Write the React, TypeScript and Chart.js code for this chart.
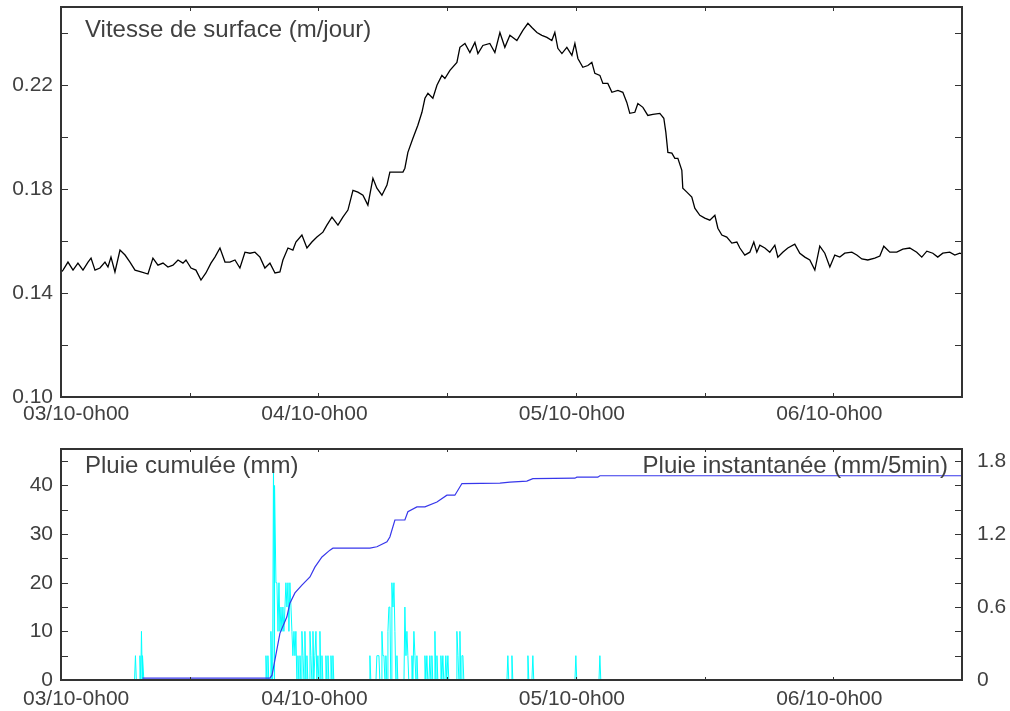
import React, { useEffect, useRef } from 'react';
import { Chart, registerables } from 'chart.js';

Chart.register(...registerables);

const FONT = '"Liberation Sans", Arial, sans-serif';
const TEXT = '#404040';
const FRAME = '#333333';

// ---- time axis (hours since 03/10 0h00) ----
const xTickHours = [12, 24, 36, 48, 60, 72];
const xLabelHours = [0, 24, 48, 72];
const xLabelTexts = ['03/10-0h00', '04/10-0h00', '05/10-0h00', '06/10-0h00'];

// ---- top panel: surface velocity (m/jour) ----
const velTicks = [0.12, 0.14, 0.16, 0.18, 0.2, 0.22, 0.24];
const velLabels = [0.1, 0.14, 0.18, 0.22];
const velTitle = 'Vitesse de surface (m/jour)';

const velHours = [
  0, 0.19, 0.65, 1.12, 1.58, 2.05, 2.52, 2.8, 3.17, 3.63, 4.1, 4.38, 4.66, 5.03, 5.5, 5.97, 6.43, 6.9, 7.46, 8.11, 8.57,
  9.04, 9.51, 9.97, 10.44, 10.91, 11.37, 11.65, 12.12, 12.58, 13.05, 13.51, 13.98, 14.35, 14.82, 15.29, 15.75, 16.22,
  16.68, 17.15, 17.62, 18.08, 18.55, 19.01, 19.48, 19.95, 20.41, 20.69, 21.16, 21.62, 21.9,
  22.46, 22.93, 23.39, 23.86, 24.42, 24.79, 25.26, 25.82, 26.28, 26.75, 27.22, 27.68, 28.15, 28.61, 29.08, 29.45,
  29.92, 30.39, 30.66, 31.88, 32.06, 32.34, 32.81, 33.27, 33.65, 33.93, 34.21, 34.67, 35.05, 35.51, 35.79, 36.26,
  36.91, 37.19, 37.66, 38.12, 38.59, 38.87, 39.33, 39.98, 40.45, 40.92, 41.38, 41.85, 42.5, 43.06, 43.53,
  43.9, 44.37, 44.83, 45.3, 45.76, 46.04, 46.32, 46.7, 47.16, 47.63, 47.91, 48.19, 48.65, 49.12, 49.49, 49.77, 50.24,
  50.52, 50.98, 51.36, 51.92, 52.38, 52.75, 53.03, 53.5, 53.78, 54.25, 54.71, 55.18, 55.83, 56.2, 56.39, 56.58, 56.95,
  57.23, 57.51, 57.88, 57.97, 58.35, 58.81, 59.09, 59.56, 60.02, 60.49, 60.96, 61.24, 61.61, 62.07, 62.54, 63.01,
  63.29, 63.75,
  64.22, 64.59, 64.87, 65.15, 65.62, 66.08, 66.55, 66.83, 67.29, 67.76, 68.41, 68.88, 69.35, 69.81, 70.28, 70.74,
  71.21, 71.68, 72.14, 72.61, 73.07, 73.73, 74.19, 74.66, 75.22, 75.87, 76.34, 76.71, 77.27, 77.92, 78.48, 79.13,
  79.78, 80.25, 80.72, 81.28, 81.74, 82.21, 82.86, 83.33, 83.79, 84,
];

const velValues = [
  0.148, 0.1488, 0.1519, 0.1488, 0.1515, 0.1488, 0.1519, 0.1534, 0.1488, 0.1496, 0.1519, 0.15, 0.1538, 0.1481, 0.1565,
  0.1546, 0.1519, 0.1488, 0.1481, 0.1473, 0.1534, 0.1507, 0.1515, 0.15, 0.1507, 0.1527, 0.1515, 0.1527, 0.1496, 0.1488,
  0.145, 0.1477, 0.1515, 0.1538, 0.1573, 0.1519, 0.1519, 0.1527, 0.1496, 0.1557, 0.1553, 0.1557, 0.1538, 0.1496,
  0.1515, 0.1477, 0.1481, 0.1527, 0.1573, 0.1565, 0.1596,
  0.1623, 0.1573, 0.1596, 0.1615, 0.1634, 0.1661, 0.1692, 0.1661, 0.1692, 0.1719, 0.1795, 0.1788, 0.1776, 0.1738,
  0.1841, 0.1803, 0.1776, 0.1815, 0.1865, 0.1865, 0.188, 0.1941, 0.1995, 0.2045, 0.2095, 0.2149, 0.2168, 0.2149,
  0.2199, 0.2237, 0.2225, 0.2256, 0.2287, 0.2345, 0.236, 0.2325, 0.2364, 0.2321, 0.2352, 0.236, 0.2325, 0.2402,
  0.2345, 0.2391, 0.2371, 0.241, 0.2437,
  0.2421, 0.2402, 0.2391, 0.2383, 0.2371, 0.2402, 0.2341, 0.2321, 0.2345, 0.2314, 0.236, 0.2302, 0.2268, 0.2275,
  0.2287, 0.2245, 0.2237, 0.2206, 0.2206, 0.2172, 0.2179, 0.2172, 0.2133, 0.2091, 0.2095, 0.2129, 0.2114, 0.2083,
  0.2087, 0.2091, 0.2072, 0.2018, 0.1941, 0.1938, 0.1918, 0.1918, 0.1872, 0.1803, 0.1788, 0.1769, 0.1726, 0.1699,
  0.1688, 0.168, 0.1699, 0.1649, 0.1623, 0.1615, 0.1592, 0.1596, 0.1573, 0.1546,
  0.1557, 0.1596, 0.1557, 0.1584, 0.1573, 0.1557, 0.1584, 0.1538, 0.1557, 0.1573, 0.1588, 0.1553, 0.1538, 0.1527,
  0.1488, 0.158, 0.1553, 0.15, 0.1546, 0.1538, 0.1553, 0.1557, 0.1546, 0.1531, 0.1527, 0.1534, 0.1542, 0.158, 0.1557,
  0.1557, 0.1569, 0.1573, 0.1557, 0.1538, 0.1561, 0.1553, 0.1538, 0.1553, 0.1557, 0.1546, 0.1553, 0.155,
];

// ---- bottom panel: rain ----
const cumTitle = 'Pluie cumulée (mm)';
const instTitle = 'Pluie instantanée (mm/5min)';
const cumTicks = [5, 10, 15, 20, 25, 30, 35, 40, 45];
const cumLabels = [0, 10, 20, 30, 40];
const instTicks = [0.2, 0.4, 0.6, 0.8, 1.0, 1.2, 1.4, 1.6, 1.8];
const instLabels = [0, 0.6, 1.2, 1.8];

const cumHours = [
  7.6, 19.48, 19.67, 19.76, 20.41, 21.06, 21.34, 21.81, 22.46, 23.21, 23.67, 24.33, 25.07, 25.35, 28.8, 29.45, 30.39,
  30.66, 31.13, 32.06, 32.34, 33.18, 33.93, 35.05, 35.98, 36.72, 37.38, 40.92, 41.85, 43.43, 43.99, 47.91, 48.09,
  50.05, 50.24, 84,
];
const cumValues = [
  0.4, 0.4, 1.0, 2.0, 9.6, 13.0, 15.8, 17.9, 19.5, 21.2, 23.2, 25.3, 26.7, 27.1, 27.1, 27.4, 28.4, 29.4, 32.9, 32.9,
  34.6, 35.6, 35.6, 36.6, 38.0, 38.0, 40.4, 40.5, 40.7, 40.9, 41.4, 41.5, 41.7, 41.7, 42.0, 42.0,
];

const instHours = [
  6.94, 7.36, 7.5, 7.64,
  19.11, 19.29, 19.57, 19.81, 19.95, 20.04, 20.13, 20.23, 20.32, 20.41, 20.51, 20.6, 20.69, 20.78, 20.88, 20.97, 21.06,
  21.16, 21.25, 21.34, 21.44, 21.53, 21.62, 21.72, 21.81, 21.9, 22.09, 22.28, 22.46, 22.56, 22.74, 22.93, 23.21, 23.3,
  23.49, 23.67, 23.77, 23.95, 24.14, 24.33, 24.7, 24.89, 25.17, 25.35,
  28.8, 29.45, 29.55, 29.64, 29.92, 30.01, 30.11, 30.29, 30.48, 30.57, 30.66, 30.85, 30.95, 31.04, 31.13, 31.32, 32.06,
  32.16, 32.25, 32.34, 32.72, 32.9, 33.0, 33.18, 33.93, 34.11, 34.39, 34.58, 34.86, 35.05, 35.42, 35.6, 35.88, 36.07,
  36.91, 37.01, 37.19, 37.38, 37.47,
  41.66, 42.04, 43.53, 43.99, 48.0, 50.24,
];
const instValues = [
  0.2, 0.2, 0.4, 0.2,
  0.2, 0.2, 0.4, 1.8, 1.6, 0.8, 0.8, 0.4, 0.8, 0.4, 0.6, 0.4, 0.6, 0.4, 0.6, 0.8, 0.6,
  0.8, 0.4, 0.8, 0.6, 0.4, 0.2, 0.4, 0.2, 0.4, 0.2, 0.2, 0.4, 0.2, 0.4, 0.2, 0.4, 0.2,
  0.4, 0.2, 0.4, 0.2, 0.4, 0.2, 0.2, 0.2, 0.2, 0.2,
  0.2, 0.2, 0.2, 0.2, 0.4, 0.2, 0.2, 0.2, 0.4, 0.6, 0.6, 0.8, 0.6, 0.8, 0.4, 0.2, 0.6,
  0.2, 0.4, 0.2, 0.2, 0.4, 0.2, 0.2, 0.2, 0.2, 0.2, 0.2, 0.4, 0.2, 0.2, 0.2, 0.2, 0.2,
  0.4, 0.2, 0.4, 0.2, 0.2,
  0.2, 0.2, 0.2, 0.2, 0.2, 0.2,
];

const STEP = 5 / 60; // one 5-minute sample, in hours

function instPoints() {
  const pts: { x: number; y: number }[] = [];
  for (let i = 0; i < instHours.length; i++) {
    const t = instHours[i];
    if (i === 0 || t - instHours[i - 1] > 0.12) pts.push({ x: t - STEP, y: 0 });
    pts.push({ x: t, y: instValues[i] });
    if (i === instHours.length - 1 || instHours[i + 1] - t > 0.12) pts.push({ x: t + STEP, y: 0 });
  }
  return pts;
}

type AxisCfg = { id: string; ticks: number[]; labels: number[]; fmt: (v: number) => string };
type PanelCfg = {
  xTickLen: number;
  xLabelGap: number;
  left: AxisCfg;
  right: AxisCfg | null;
  titleLeft: string;
  titleRight: string | null;
  titleBase: number;
};

function panelPlugin(id: string, cfg: PanelCfg) {
  return {
    id,
    afterDraw(chart: any) {
      const ctx = chart.ctx as CanvasRenderingContext2D;
      const a = chart.chartArea;
      const xs = chart.scales.x;
      const ls = chart.scales[cfg.left.id];
      const rs = cfg.right ? chart.scales[cfg.right.id] : ls;
      const rTicks = cfg.right ? cfg.right.ticks : cfg.left.ticks;
      ctx.save();
      ctx.strokeStyle = FRAME;
      ctx.lineWidth = 1;
      ctx.beginPath();
      for (const h of xTickHours) {
        const px = Math.round(xs.getPixelForValue(h)) + 0.5;
        ctx.moveTo(px, a.bottom);
        ctx.lineTo(px, a.bottom - cfg.xTickLen);
        ctx.moveTo(px, a.top);
        ctx.lineTo(px, a.top + cfg.xTickLen);
      }
      for (const v of cfg.left.ticks) {
        const py = Math.round(ls.getPixelForValue(v)) + 0.5;
        ctx.moveTo(a.left, py);
        ctx.lineTo(a.left + 7, py);
      }
      for (const v of rTicks) {
        const py = Math.round(rs.getPixelForValue(v)) + 0.5;
        ctx.moveTo(a.right, py);
        ctx.lineTo(a.right - 7, py);
      }
      ctx.stroke();
      ctx.lineWidth = 2;
      ctx.strokeRect(a.left, a.top, a.right - a.left, a.bottom - a.top);

      ctx.fillStyle = TEXT;
      ctx.font = `21px ${FONT}`;
      ctx.textBaseline = 'middle';
      ctx.textAlign = 'right';
      for (const v of cfg.left.labels) ctx.fillText(cfg.left.fmt(v), a.left - 8, ls.getPixelForValue(v));
      if (cfg.right) {
        ctx.textAlign = 'left';
        for (const v of cfg.right.labels) ctx.fillText(cfg.right.fmt(v), a.right + 15, rs.getPixelForValue(v));
      }
      ctx.textAlign = 'center';
      xLabelHours.forEach((h, i) => {
        const t = xLabelTexts[i];
        const w = ctx.measureText(t).width;
        const cx = Math.max(xs.getPixelForValue(h) - 4, a.left - 38 + w / 2);
        ctx.fillText(t, cx, a.bottom + cfg.xLabelGap);
      });

      ctx.font = `24px ${FONT}`;
      ctx.textBaseline = 'alphabetic';
      ctx.textAlign = 'left';
      ctx.fillText(cfg.titleLeft, a.left + 24, a.top + cfg.titleBase);
      if (cfg.titleRight) {
        ctx.textAlign = 'right';
        ctx.fillText(cfg.titleRight, a.right - 14, a.top + cfg.titleBase);
      }
      ctx.restore();
    },
  };
}

const hiddenX = { type: 'linear' as const, min: 0, max: 84, display: false };

export default function App() {
  const topRef = useRef<HTMLCanvasElement>(null);
  const botRef = useRef<HTMLCanvasElement>(null);

  useEffect(() => {
    const top = new Chart(topRef.current!, {
      type: 'line',
      data: {
        datasets: [
          {
            data: velHours.map((h, i) => ({ x: h, y: velValues[i] })),
            borderColor: '#000000',
            borderWidth: 1.3,
            pointRadius: 0,
            tension: 0,
          },
        ],
      },
      options: {
        animation: false,
        responsive: false,
        maintainAspectRatio: false,
        layout: { padding: { left: 61, top: 7, right: 48, bottom: 28 } },
        scales: {
          x: hiddenX,
          y: { type: 'linear', min: 0.1, max: 0.25, display: false },
        },
        plugins: { legend: { display: false }, tooltip: { enabled: false } },
      },
      plugins: [
        panelPlugin('topPanel', {
          xTickLen: 4,
          xLabelGap: 17,
          left: { id: 'y', ticks: velTicks, labels: velLabels, fmt: (v) => v.toFixed(2) },
          right: null,
          titleLeft: velTitle,
          titleRight: null,
          titleBase: 30,
        }),
      ],
    } as any);

    const bot = new Chart(botRef.current!, {
      type: 'line',
      data: {
        datasets: [
          {
            data: cumHours.map((h, i) => ({ x: h, y: cumValues[i] })),
            borderColor: 'rgb(55,55,235)',
            borderWidth: 1.2,
            pointRadius: 0,
            tension: 0,
            yAxisID: 'y',
          },
          {
            data: instPoints(),
            borderColor: '#00ffff',
            borderWidth: 1,
            pointRadius: 0,
            tension: 0,
            yAxisID: 'y2',
          },
        ],
      },
      options: {
        animation: false,
        responsive: false,
        maintainAspectRatio: false,
        layout: { padding: { left: 61, top: 9, right: 48, bottom: 31 } },
        scales: {
          x: hiddenX,
          y: { type: 'linear', min: 0, max: 47.5, display: false },
          y2: { type: 'linear', min: 0, max: 1.9, display: false, position: 'right' },
        },
        plugins: { legend: { display: false }, tooltip: { enabled: false } },
      },
      plugins: [
        panelPlugin('botPanel', {
          xTickLen: 3,
          xLabelGap: 19,
          left: { id: 'y', ticks: cumTicks, labels: cumLabels, fmt: (v) => String(v) },
          right: { id: 'y2', ticks: instTicks, labels: instLabels, fmt: (v) => (v === 0 ? '0' : v.toFixed(1)) },
          titleLeft: cumTitle,
          titleRight: instTitle,
          titleBase: 24,
        }),
      ],
    } as any);

    return () => {
      top.destroy();
      bot.destroy();
    };
  }, []);

  return (
    <div style={{ position: 'absolute', left: 0, top: 0, width: 1010, height: 711, background: '#ffffff' }}>
      <canvas
        ref={topRef}
        width={1010}
        height={425}
        style={{ position: 'absolute', left: 0, top: 0, width: 1010, height: 425 }}
      />
      <canvas
        ref={botRef}
        width={1010}
        height={271}
        style={{ position: 'absolute', left: 0, top: 440, width: 1010, height: 271 }}
      />
    </div>
  );
}
